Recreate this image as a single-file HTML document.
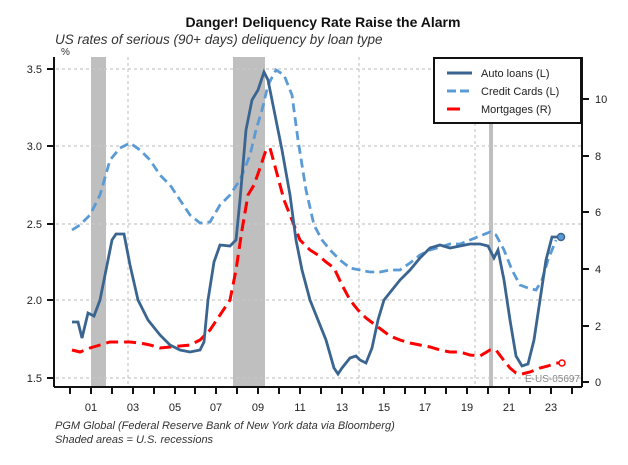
<!DOCTYPE html>
<html><head><meta charset="utf-8"><style>
html,body{margin:0;padding:0;background:#fff;}
svg{display:block;font-family:"Liberation Sans",Arial,sans-serif;}
</style></head><body>
<svg width="628" height="465" viewBox="0 0 628 465" xmlns="http://www.w3.org/2000/svg">
<rect width="628" height="465" fill="#fff"/>
<text x="323" y="27" text-anchor="middle" font-size="14" font-weight="bold" fill="#111">Danger! Deliquency Rate Raise the Alarm</text>
<text x="55" y="44" font-size="13.5" font-style="italic" fill="#333">US rates of serious (90+ days) deliquency by loan type</text>
<text x="61" y="55" font-size="10" fill="#333">%</text>
<!-- recessions -->
<rect x="91" y="57" width="15" height="330" fill="#bfbfbf"/>
<rect x="233" y="57" width="32" height="330" fill="#bfbfbf"/>
<rect x="489" y="57" width="4" height="330" fill="#bfbfbf"/>
<!-- grid -->
<g stroke="#c8c8c8" stroke-width="1.2" stroke-dasharray="3,3">
<line x1="56" y1="69" x2="582" y2="69"/><line x1="56" y1="146" x2="582" y2="146"/>
<line x1="56" y1="224" x2="582" y2="224"/><line x1="56" y1="300" x2="582" y2="300"/>
<line x1="56" y1="378" x2="582" y2="378"/>
<line x1="128" y1="57" x2="128" y2="386"/><line x1="359" y1="57" x2="359" y2="386"/><line x1="475" y1="57" x2="475" y2="386"/>
</g>
<!-- axes -->
<g stroke="#111" stroke-width="2" fill="none">
<line x1="54" y1="57" x2="54" y2="387"/>
<line x1="54" y1="387" x2="582" y2="387"/>
<line x1="582" y1="57" x2="582" y2="387"/>
<line x1="47" y1="69" x2="54" y2="69"/><line x1="47" y1="146" x2="54" y2="146"/><line x1="47" y1="224" x2="54" y2="224"/><line x1="47" y1="300" x2="54" y2="300"/><line x1="47" y1="378" x2="54" y2="378"/>
<line x1="582" y1="99" x2="589" y2="99"/><line x1="582" y1="156" x2="589" y2="156"/><line x1="582" y1="212" x2="589" y2="212"/><line x1="582" y1="269" x2="589" y2="269"/><line x1="582" y1="326" x2="589" y2="326"/><line x1="582" y1="382" x2="589" y2="382"/>
</g>
<g stroke="#111" stroke-width="2">
<line x1="70" y1="387" x2="70" y2="394"/><line x1="91" y1="387" x2="91" y2="394"/><line x1="112" y1="387" x2="112" y2="394"/><line x1="133" y1="387" x2="133" y2="394"/><line x1="154" y1="387" x2="154" y2="394"/><line x1="175" y1="387" x2="175" y2="394"/><line x1="195" y1="387" x2="195" y2="394"/><line x1="216" y1="387" x2="216" y2="394"/><line x1="237" y1="387" x2="237" y2="394"/><line x1="258" y1="387" x2="258" y2="394"/><line x1="279" y1="387" x2="279" y2="394"/><line x1="300" y1="387" x2="300" y2="394"/><line x1="321" y1="387" x2="321" y2="394"/><line x1="342" y1="387" x2="342" y2="394"/><line x1="363" y1="387" x2="363" y2="394"/><line x1="384" y1="387" x2="384" y2="394"/><line x1="405" y1="387" x2="405" y2="394"/><line x1="425" y1="387" x2="425" y2="394"/><line x1="446" y1="387" x2="446" y2="394"/><line x1="467" y1="387" x2="467" y2="394"/><line x1="488" y1="387" x2="488" y2="394"/><line x1="509" y1="387" x2="509" y2="394"/><line x1="530" y1="387" x2="530" y2="394"/><line x1="551" y1="387" x2="551" y2="394"/><line x1="572" y1="387" x2="572" y2="394"/>
</g>
<g font-size="11" fill="#222" text-anchor="end">
<text x="42" y="73">3.5</text><text x="42" y="150">3.0</text><text x="42" y="228">2.5</text><text x="42" y="304">2.0</text><text x="42" y="382">1.5</text>
</g>
<g font-size="11" fill="#222">
<text x="595" y="103">10</text><text x="595" y="160">8</text><text x="595" y="216">6</text><text x="595" y="273">4</text><text x="595" y="330">2</text><text x="595" y="386">0</text>
</g>
<g font-size="11" fill="#222" text-anchor="middle">
<text x="91" y="411">01</text><text x="133" y="411">03</text><text x="175" y="411">05</text><text x="216" y="411">07</text><text x="258" y="411">09</text><text x="300" y="411">11</text><text x="342" y="411">13</text><text x="384" y="411">15</text><text x="425" y="411">17</text><text x="467" y="411">19</text><text x="509" y="411">21</text><text x="551" y="411">23</text>
</g>
<text x="580" y="382" font-size="10" fill="#888" text-anchor="end">E-US-05697</text>
<!-- series -->
<polyline fill="none" stroke="#5b9bd5" stroke-width="2.8" stroke-dasharray="9,5" points="72,230 80,225 90,215 100,195 110,160 120,148 130,143 140,150 150,160 160,175 170,185 180,200 190,215 200,223 210,222 220,205 230,195 240,180 250,155 256,130 262,110 268,85 276,70 284,75 292,95 298,140 306,190 314,225 322,240 330,250 340,260 350,268 360,270 370,272 380,272 390,270 400,270 410,263 420,255 430,250 440,247 450,244 460,244 470,240 480,236 490,232 496,235 504,250 512,270 520,285 528,288 536,290 542,280 548,260 556,240"/>
<polyline fill="none" stroke="red" stroke-width="3" stroke-dasharray="12,6" points="72,350 80,352 90,348 100,345 110,342 120,342 130,342 140,343 150,345 160,348 170,347 180,346 190,345 200,340 210,330 220,315 230,300 236,270 242,230 248,195 254,185 260,168 266,150 270,148 276,170 284,200 292,220 300,240 310,250 318,255 326,262 334,268 342,285 350,300 358,310 366,318 374,324 382,330 390,336 400,340 410,343 420,345 430,347 440,350 450,352 460,352 470,355 480,356 490,350 496,350 502,358 510,368 516,373 522,374 530,372 540,368 548,366 556,363 562,363"/>
<polyline fill="none" stroke="#3a6590" stroke-width="2.8" points="72,322 78,322 82,338 88,313 94,316 100,300 106,270 112,240 116,234 124,234 130,265 138,300 148,320 160,335 170,345 180,350 190,352 200,350 204,342 208,300 214,262 220,245 230,246 236,240 240,200 246,130 252,100 258,90 264,72 268,80 274,110 282,150 290,195 296,240 302,270 310,300 318,320 326,340 334,368 338,374 342,368 350,358 356,356 360,360 366,363 372,348 378,320 384,300 392,290 400,280 410,270 420,258 430,248 440,245 450,248 460,246 470,244 480,244 488,246 494,258 498,250 504,280 510,320 516,356 522,366 528,364 534,340 540,300 546,260 552,237 561,237"/>
<circle cx="561" cy="237" r="3.5" fill="#5b9bd5" stroke="#3a6590" stroke-width="1.5"/>
<circle cx="562" cy="363" r="3" fill="#fff" stroke="red" stroke-width="1.5"/>
<!-- legend -->
<rect x="434" y="58" width="147" height="65" fill="#fff" stroke="#111" stroke-width="2"/>
<line x1="447" y1="73" x2="472" y2="73" stroke="#3a6590" stroke-width="3"/>
<line x1="447" y1="91" x2="472" y2="91" stroke="#5b9bd5" stroke-width="3" stroke-dasharray="9,4"/>
<line x1="447" y1="109" x2="460" y2="109" stroke="red" stroke-width="3"/>
<g font-size="11" fill="#222">
<text x="481" y="77">Auto loans (L)</text>
<text x="481" y="95">Credit Cards (L)</text>
<text x="481" y="113">Mortgages (R)</text>
</g>
<g font-size="11" font-style="italic" fill="#333">
<text x="55" y="429">PGM Global (Federal Reserve Bank of New York data via Bloomberg)</text>
<text x="55" y="443">Shaded areas = U.S. recessions</text>
</g>
</svg>
</body></html>
